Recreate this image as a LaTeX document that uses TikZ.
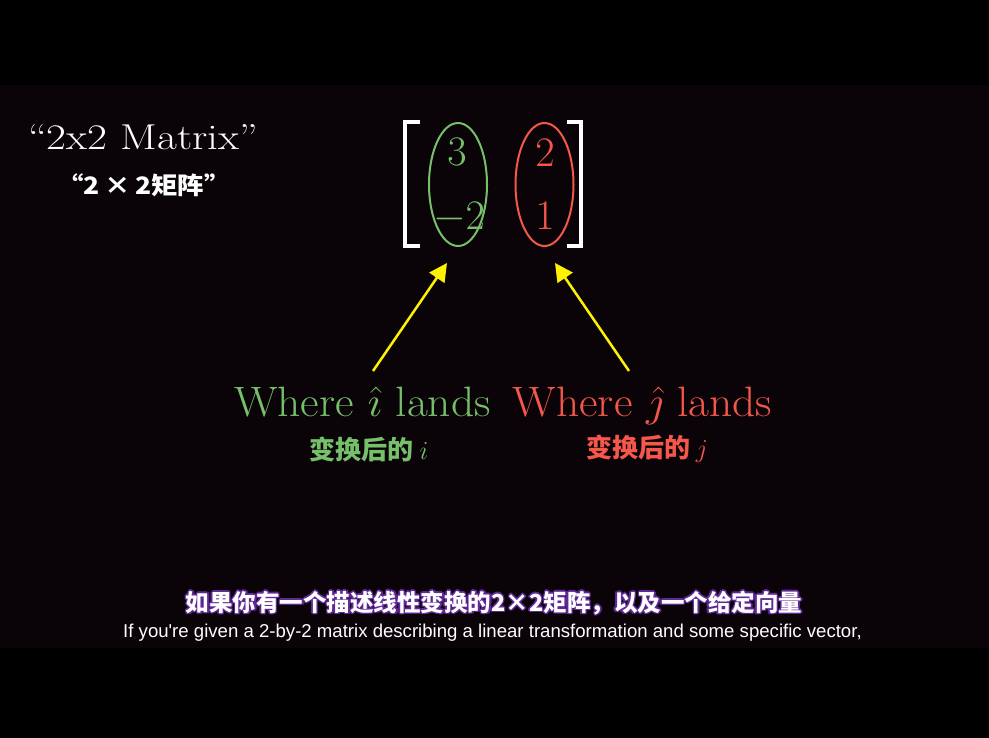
\RequirePackage{fix-cm}
\documentclass[tikz,border=0pt]{standalone}
\usepackage{fontspec}
\usetikzlibrary{arrows.meta,shapes.geometric}
\newfontfamily\cjk{Noto Sans CJK SC}
\newfontfamily\subsans{Liberation Sans}
\definecolor{bandbg}{RGB}{10,3,8}
\definecolor{mgreen}{HTML}{77C06A}
\definecolor{mred}{HTML}{F5574B}
\definecolor{glow}{RGB}{95,40,150}
\tikzset{
  bracketline/.style={draw=white, line width=4pt},
  colellipse/.style={ellipse, draw, line width=2pt, minimum width=58pt, minimum height=123pt, inner sep=0pt},
  entry/.style={inner sep=0pt, anchor=base, font=\fontsize{42}{42}\selectfont},
  bigtext/.style={inner sep=0pt, font=\fontsize{42.5}{42.5}\selectfont},
  cjklabel/.style={inner sep=0pt, font=\cjk\bfseries\fontsize{26}{26}\selectfont},
  yarrow/.style={draw=yellow, line width=2.5pt, -{Triangle[length=18pt,width=18pt]}},
  subcn/.style={inner sep=0pt, text=white, font=\cjk\bfseries\fontsize{23.5}{23.5}\selectfont},
  subglow/.style={subcn, text=glow},
}
\begin{document}
\begin{tikzpicture}[x=1pt,y=-1pt]
\fill[black] (0,0) rectangle (989,738);
\useasboundingbox (0,0) rectangle (989,738);
\fill[bandbg] (0,85) rectangle (989,648);
% title
\node[anchor=base west, inner sep=0pt, text=white, font=\fontsize{36}{36}\selectfont] (title) at (28,150) {\scalebox{1.2}[1]{``2x2 Matrix''}};
\node[anchor=center, inner sep=0pt, text=white, font=\cjk\bfseries\fontsize{24}{24}\selectfont] (titlecn) at (144,185) {\scalebox{1.1}[1]{“2\,×\,2矩阵”}};
% brackets
\draw[bracketline] (420,122) -- (405,122) -- (405,246) -- (420,246);
\draw[bracketline] (567,122) -- (581,122) -- (581,246) -- (567,246);
% ellipses
\node[colellipse, draw=mgreen] (colI) at (458,184.5) {};
\node[colellipse, draw=mred] (colJ) at (544.5,184.5) {};
% entries
\node[entry, text=mgreen] (a11) at (457,166) {$3$};
\node[entry, text=mgreen] (a21) at (459,230) {$-2$};
\node[entry, text=mred] (a12) at (545,167) {$2$};
\node[entry, text=mred] (a22) at (545,230) {$1$};
% labels
\node[bigtext, text=mgreen, anchor=base] (lblI) at (362.5,417) {\scalebox{1.07}[1]{Where $\hat{\imath}$ lands}};
\node[bigtext, text=mred, anchor=base] (lblJ) at (642.5,417) {\scalebox{1.07}[1]{Where $\hat{\jmath}$ lands}};
\node[cjklabel, text=mgreen] (cnI) at (369,449) {变换后的 \rmfamily\mdseries$i$};
\node[cjklabel, text=mred] (cnJ) at (647,449) {变换后的 \rmfamily\mdseries$j$};
% arrows
\coordinate (sI) at (373,371);
\coordinate (tI) at (447,263);
\coordinate (sJ) at (629,371);
\coordinate (tJ) at (555,263);
\draw[yarrow] (sI) -- (tI);
\draw[yarrow] (sJ) -- (tJ);
% subtitles
\foreach \dx/\dy in {-1.5/0,1.5/0,0/-1.5,0/1.5,-1.1/-1.1,1.1/1.1,-1.1/1.1,1.1/-1.1}
  \node[subglow] at (494+\dx,603+\dy) {如果你有一个描述线性变换的2×2矩阵，以及一个给定向量};
\node[subcn] (subcn) at (494,603) {如果你有一个描述线性变换的2×2矩阵，以及一个给定向量};
\node[inner sep=0pt, text=white, font=\subsans\fontsize{18.6}{18.6}\selectfont] (suben) at (492.5,633) {If you're given a 2-by-2 matrix describing a linear transformation and some specific vector,};
\end{tikzpicture}
\end{document}
